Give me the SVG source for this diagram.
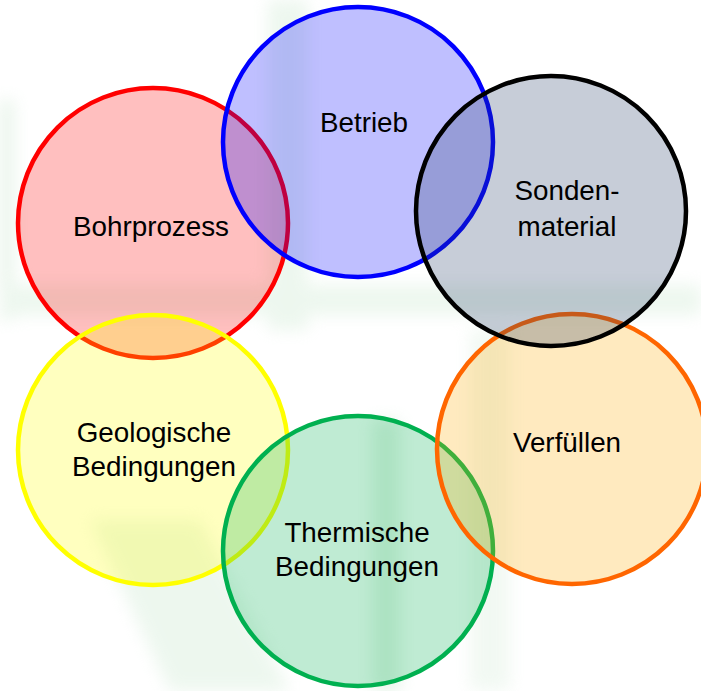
<svg xmlns="http://www.w3.org/2000/svg" width="701" height="691" viewBox="0 0 701 691">
  <defs>
    <filter id="blur" x="-50%" y="-50%" width="200%" height="200%">
      <feGaussianBlur stdDeviation="8"/>
    </filter>
    <style>
      .ring { stroke-width: 4.5; }
      .lbl { font-family: "Liberation Sans", Arial, sans-serif; font-size: 27.8px; fill: #000; text-anchor: middle; }
    </style>
  </defs>
  <rect width="701" height="691" fill="#ffffff"/>
  <!-- faint background watermark -->
  <g id="background" filter="url(#blur)" opacity="0.45">
    <rect x="0" y="100" width="14" height="220" fill="#cfe8d2"/>
    <rect x="268" y="0" width="40" height="330" fill="#d8eedb"/>
    <rect x="0" y="285" width="701" height="30" fill="#d8eedb"/>
    <rect x="470" y="330" width="40" height="360" fill="#e2f2e4"/>
    <polygon points="90,520 200,520 290,691 170,691" fill="#d8eedb"/>
    <rect x="372" y="420" width="28" height="271" fill="#c8e6cd"/>
  </g>
  <g id="nodes">
    <g id="bohrprozess">
      <circle class="ring" cx="153" cy="223" r="135" fill="rgba(255,0,0,0.25)" stroke="#ff0000"/>
      <text class="lbl" x="151" y="236">Bohrprozess</text>
    </g>
    <g id="betrieb">
      <circle class="ring" cx="358" cy="142" r="135" fill="rgba(0,0,255,0.25)" stroke="#0000ff"/>
      <text class="lbl" x="364" y="132">Betrieb</text>
    </g>
    <g id="geologische">
      <circle class="ring" cx="153" cy="450" r="135" fill="rgba(255,255,0,0.25)" stroke="#ffff00"/>
      <text class="lbl" x="154" y="442">Geologische</text>
      <text class="lbl" x="154" y="476">Bedingungen</text>
    </g>
    <g id="thermische">
      <circle class="ring" cx="358" cy="551" r="135" fill="rgba(0,176,80,0.25)" stroke="#00b050"/>
      <text class="lbl" x="357" y="542">Thermische</text>
      <text class="lbl" x="357" y="576">Bedingungen</text>
    </g>
    <g id="verfuellen">
      <circle class="ring" cx="572" cy="449" r="135" fill="rgba(255,172,0,0.25)" stroke="#ff6600"/>
      <text class="lbl" x="567" y="452">Verfüllen</text>
    </g>
    <g id="sondenmaterial">
      <circle class="ring" cx="551" cy="211" r="135" fill="rgba(31,56,100,0.25)" stroke="#000000"/>
      <text class="lbl" x="567" y="200">Sonden-</text>
      <text class="lbl" x="567" y="236">material</text>
    </g>
  </g>
  <g id="connectors"/>
</svg>
